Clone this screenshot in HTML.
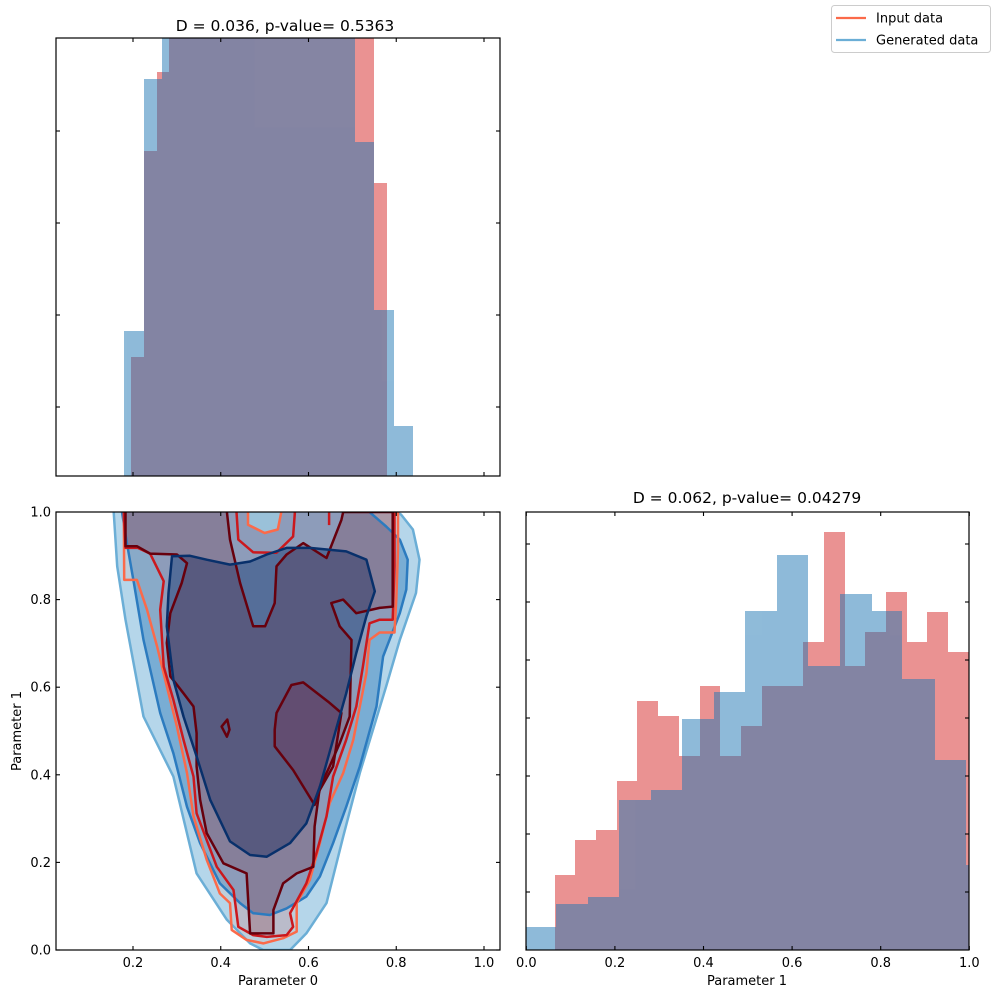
<!DOCTYPE html>
<html><head><meta charset="utf-8"><style>
html,body{margin:0;padding:0;background:#fff;}
svg{display:block;font-family:"DejaVu Sans","Liberation Sans",sans-serif;}
</style></head><body>
<svg id="fig" width="998" height="998" viewBox="0 0 998 998" xmlns="http://www.w3.org/2000/svg">
<defs>
<clipPath id="clipA"><rect x="56" y="38" width="444" height="438"/></clipPath>
<clipPath id="clipB"><rect x="56" y="512" width="444" height="438"/></clipPath>
<clipPath id="clipC"><rect x="526" y="512" width="443" height="438"/></clipPath>
</defs>
<g id="gA" clip-path="url(#clipA)"></g>
<g id="gB" clip-path="url(#clipB)"></g>
<g id="gC" clip-path="url(#clipC)"></g>
<g id="axes"></g>
<text x="285" y="31" font-size="15.5" text-anchor="middle">D = 0.036, p-value= 0.5363</text>
<text x="747" y="503" font-size="15.5" text-anchor="middle">D = 0.062, p-value= 0.04279</text>
<text x="278" y="985" font-size="13" text-anchor="middle">Parameter 0</text>
<text x="747" y="985" font-size="13" text-anchor="middle">Parameter 1</text>
<text x="21" y="731" font-size="13" text-anchor="middle" transform="rotate(-90 21 731)">Parameter 1</text>
<g>
<rect x="831.5" y="5.5" width="159" height="47" rx="3" fill="#fff" stroke="#ccc"/>
<line x1="836" y1="18" x2="866" y2="18" stroke="#fb6a4a" stroke-width="2.2"/>
<text x="876" y="22.5" font-size="13">Input data</text>
<line x1="836" y1="40" x2="866" y2="40" stroke="#6baed6" stroke-width="2.2"/>
<text x="876" y="44.5" font-size="13">Generated data</text>
</g>
</svg>
<script>
// ---- Data: Parameter 0 histogram (top-left)
const p0RedEdges = [0.1954,0.2244,0.2547,0.2814,0.706,0.7486,0.7789];
const p0RedHeights = [1.29,3.53,4.39,5.2,5.2,3.18];
const p0BlueEdges = [0.1795,0.2244,0.2661,0.706,0.7486,0.7942,0.8382];
const p0BlueHeights = [1.58,4.32,5.2,3.63,1.80,0.54];
const p0YTicks = [0.75,1.75,2.75,3.75];
const p0XTicks = [0.2,0.4,0.6,0.8,1.0];
// ---- Data: Parameter 1 histogram (bottom-right)
const p1RedEdges = [0.0647,0.1099,0.1573,0.2047,0.2506,0.2965,0.3446,0.392,0.4372,0.4846,0.5312,0.5779,0.6245,0.6712,0.7186,0.7645,0.8119,0.8585,0.9052,0.9518,1.0];
const p1RedHeights = [1.29,1.90,2.07,2.91,4.29,4.03,3.35,4.55,3.35,3.86,4.55,4.55,5.31,7.21,4.90,5.48,6.17,5.31,5.83,5.14];
const p1BlueEdges = [0,0.0662,0.139,0.209,0.281,0.351,0.4245,0.4944,0.566,0.637,0.708,0.7795,0.849,0.9225,0.9932,1.0];
const p1BlueHeights = [0.40,0.80,0.91,2.59,2.76,3.99,4.44,5.84,6.81,4.90,6.13,5.84,4.67,3.28,1.47];
const p1YTicks = [1,2,3,4,5,6,7];
const p1XTicks = [0,0.2,0.4,0.6,0.8,1.0];
const p1XLabels = ["0.0","0.2","0.4","0.6","0.8","1.0"];
// ---- Data: contours (bottom-left), [param0, param1]
const blueOuter = [[0.156,1.0],[0.164,0.876],[0.183,0.754],[0.224,0.533],[0.292,0.396],[0.345,0.175],[0.414,0.069],[0.467,0.015],[0.497,0],[0.558,0],[0.595,0.038],[0.641,0.107],[0.679,0.259],[0.717,0.404],[0.777,0.602],[0.808,0.708],[0.845,0.815],[0.853,0.891],[0.838,0.960],[0.811,0.994],[0.8,1.0]];
const blueMid = [[0.175,1.0],[0.186,0.929],[0.202,0.838],[0.224,0.708],[0.262,0.541],[0.292,0.449],[0.323,0.327],[0.353,0.244],[0.398,0.152],[0.444,0.107],[0.474,0.084],[0.512,0.080],[0.55,0.095],[0.595,0.122],[0.626,0.168],[0.656,0.244],[0.686,0.327],[0.717,0.419],[0.755,0.556],[0.77,0.670],[0.808,0.769],[0.823,0.823],[0.826,0.891],[0.808,0.937],[0.777,0.967],[0.739,1.0]];
const blueInner = [[0.289,0.899],[0.330,0.900],[0.368,0.891],[0.421,0.880],[0.467,0.887],[0.505,0.903],[0.55,0.918],[0.603,0.918],[0.686,0.910],[0.732,0.891],[0.751,0.819],[0.732,0.762],[0.709,0.678],[0.686,0.586],[0.656,0.480],[0.626,0.373],[0.595,0.289],[0.558,0.244],[0.505,0.213],[0.467,0.217],[0.421,0.248],[0.376,0.343],[0.345,0.442],[0.315,0.533],[0.292,0.617],[0.277,0.739],[0.281,0.815]];
const redOuter = [[0.179,1.0],[0.180,0.845],[0.209,0.845],[0.232,0.777],[0.255,0.693],[0.277,0.602],[0.3,0.510],[0.323,0.404],[0.338,0.305],[0.368,0.206],[0.398,0.129],[0.421,0.107],[0.425,0.046],[0.459,0.023],[0.497,0.015],[0.542,0.027],[0.573,0.042],[0.573,0.107],[0.603,0.160],[0.626,0.244],[0.648,0.335],[0.679,0.404],[0.702,0.480],[0.717,0.556],[0.732,0.632],[0.739,0.708],[0.762,0.725],[0.796,0.725],[0.8,0.800],[0.804,0.914],[0.804,1.0]];
const redOuterHole = [[0.462,1.0],[0.462,0.971],[0.5,0.952],[0.53,0.960],[0.538,1.0]];
const redMid = [[0.179,1.0],[0.183,0.918],[0.211,0.918],[0.239,0.905],[0.27,0.842],[0.262,0.777],[0.27,0.647],[0.292,0.571],[0.315,0.480],[0.338,0.396],[0.345,0.312],[0.391,0.190],[0.429,0.137],[0.44,0.053],[0.474,0.034],[0.505,0.030],[0.55,0.034],[0.565,0.053],[0.558,0.084],[0.595,0.152],[0.618,0.221],[0.641,0.305],[0.656,0.396],[0.686,0.480],[0.709,0.556],[0.724,0.647],[0.739,0.746],[0.762,0.754],[0.792,0.754],[0.796,0.876],[0.796,1.0]];
const redMidHole = [[0.436,1],[0.44,0.937],[0.474,0.908],[0.527,0.907],[0.565,0.944],[0.569,1]];
const redInner = [[0.183,1.0],[0.183,0.922],[0.209,0.922],[0.239,0.905],[0.3,0.903],[0.323,0.883],[0.311,0.838],[0.285,0.769],[0.277,0.701],[0.285,0.625],[0.315,0.586],[0.338,0.556],[0.345,0.495],[0.345,0.419],[0.353,0.343],[0.368,0.267],[0.406,0.198],[0.459,0.175],[0.467,0.038],[0.52,0.038],[0.52,0.091],[0.542,0.152],[0.573,0.175],[0.611,0.190],[0.614,0.282],[0.626,0.373],[0.648,0.419],[0.671,0.472],[0.694,0.533],[0.698,0.708],[0.671,0.739],[0.652,0.792],[0.679,0.8],[0.709,0.769],[0.762,0.781],[0.792,0.784],[0.792,1.0],[0.679,1.0],[0.675,0.982],[0.641,0.895],[0.588,0.929],[0.55,0.903],[0.527,0.876],[0.523,0.792],[0.501,0.739],[0.474,0.739],[0.444,0.838],[0.421,0.937],[0.414,1.0]];
const redIsland = [[0.523,0.503],[0.527,0.541],[0.561,0.605],[0.588,0.611],[0.645,0.567],[0.675,0.541],[0.656,0.419],[0.626,0.366],[0.614,0.331],[0.565,0.411],[0.523,0.465]];
const redDiamond = [[0.402,0.510],[0.415,0.526],[0.42,0.503],[0.414,0.487]];
const redTick = [[0.647,1.0],[0.647,0.97]];
const p0LabelTicks = [0.2,0.4,0.6,0.8,1.0];
const p1LabelTicks = [0,0.2,0.4,0.6,0.8,1.0];
const p1LabelText = ["0.0","0.2","0.4","0.6","0.8","1.0"];

const NS = "http://www.w3.org/2000/svg";
function mk(tag, attrs, parent){const e=document.createElementNS(NS,tag);for(const k in attrs)e.setAttribute(k,attrs[k]);parent.appendChild(e);return e;}
const X0 = v => 45.25 + 438.75*v;
const X1 = v => 526.3 + 443*v;
const YB = v => 950 - 438*v;
const YA = h => 476 - 92*h;
const YC = h => 950 - 58*h;

const gA=document.getElementById('gA'), gB=document.getElementById('gB'), gC=document.getElementById('gC'), ax=document.getElementById('axes');

function hist(g, edges, heights, xf, yf, color, base, name){
  const grp=mk('g',{opacity:0.5},g);
  
  
  heights.forEach((h,i)=>{
    const x1=Math.round(xf(edges[i])), x2=Math.round(xf(edges[i+1])), y=Math.round(yf(h));
    const r=mk('rect',{x:x1,y:y,width:Math.max(0,x2-x1),height:base-y,fill:color,'shape-rendering':'crispEdges'},grp);
    
    
  });
}
hist(gA,p0RedEdges,p0RedHeights,X0,YA,'#d62728',476,'p0-input');
hist(gA,p0BlueEdges,p0BlueHeights,X0,YA,'#1f77b4',476,'p0-generated');
hist(gC,p1RedEdges,p1RedHeights,X1,YC,'#d62728',950,'p1-input');
hist(gC,p1BlueEdges,p1BlueHeights,X1,YC,'#1f77b4',950,'p1-generated');

function poly(pts, fill, fop, stroke, name, closed){
  const d = pts.map((p,i)=>(i?'L':'M')+X0(p[0]).toFixed(1)+' '+YB(p[1]).toFixed(1)).join(' ')+(closed?' Z':'');
  const e=mk('path',{d:d,fill:fill,'fill-opacity':fop,stroke:stroke,'stroke-width':2.5,'stroke-linejoin':'round'},gB);
  
  
}
poly(blueOuter,'#6baed6',0.5,'none','generated-contour-outer-fill',true);
poly(blueMid,'#2171b5',0.4,'none','generated-contour-mid-fill',true);
poly(redOuter,'#fc9272',0.12,'none','input-contour-outer-fill',true);
poly(redMid,'#a5506a',0.15,'none','input-contour-mid-fill',true);
poly(redOuterHole,'#9ecae1',0.8,'none','input-contour-outer-hole-fill',true);
poly(blueInner,'#08306b',0.42,'none','generated-contour-inner-fill',true);
poly(redInner,'#67000d',0.18,'none','input-contour-inner-fill',true);
poly(redIsland,'#8a2040',0.22,'none','input-contour-island-fill',true);
poly(blueOuter,'none',0,'#6baed6','generated-contour-outer-line',false);
poly(blueMid,'none',0,'#2c7bbf','generated-contour-mid-line',false);
poly(redOuter,'none',0,'#fb6a4a','input-contour-outer-line',false);
poly(redOuterHole,'none',0,'#fb6a4a','input-contour-outer-hole-line',false);
poly(redMid,'none',0,'#cb181d','input-contour-mid-line',false);
poly(redMidHole,'none',0,'#cb181d','input-contour-mid-hole-line',false);
poly(redInner,'none',0,'#67000d','input-contour-inner-line',false);
poly(redIsland,'none',0,'#67000d','input-contour-island-line',true);
poly(redDiamond,'none',0,'#67000d','input-contour-diamond-line',true);
poly(redTick,'none',0,'#cb181d','input-contour-top-tick',false);
poly(blueInner,'none',0,'#08306b','generated-contour-inner-line',true);

function frame(x,y,w,h,name){
  const r=mk('rect',{x:x,y:y,width:w,height:h,fill:'none',stroke:'#000','stroke-width':1.2},ax);
  
  
}
function tick(x1,y1,x2,y2){
  const l=mk('line',{x1:x1,y1:y1,x2:x2,y2:y2,stroke:'#000','stroke-width':1.1},ax);
  
  
}
function label(x,y,t,anchor){
  const e=mk('text',{x:x,y:y,'font-size':13,'text-anchor':anchor},ax);
  e.textContent=t;
  
  
}
frame(56,38,444,438,'param0-hist-frame');
frame(56,512,444,438,'contour-frame');
frame(526,512,443,438,'param1-hist-frame');
p0XTicks.forEach(v=>{const x=X0(v);tick(x,476,x,472);tick(x,38,x,42);});
p0YTicks.forEach(h=>{const y=YA(h);tick(56,y,60,y);tick(500,y,496,y);});
p0LabelTicks.forEach((v,i)=>{const x=X0(v);tick(x,950,x,946);tick(x,512,x,516);label(x,967,v.toFixed(1),'middle');});
p1LabelTicks.forEach((v,i)=>{const y=YB(v);tick(56,y,60,y);tick(500,y,496,y);label(51,y+4.5,p1LabelText[i],'end');});
p1XTicks.forEach((v,i)=>{const x=X1(v);tick(x,950,x,946);tick(x,512,x,516);label(x,967,p1XLabels[i],'middle');});
p1YTicks.forEach(h=>{const y=YC(h);tick(526,y,530,y);tick(969,y,965,y);});
</script>
</body></html>
